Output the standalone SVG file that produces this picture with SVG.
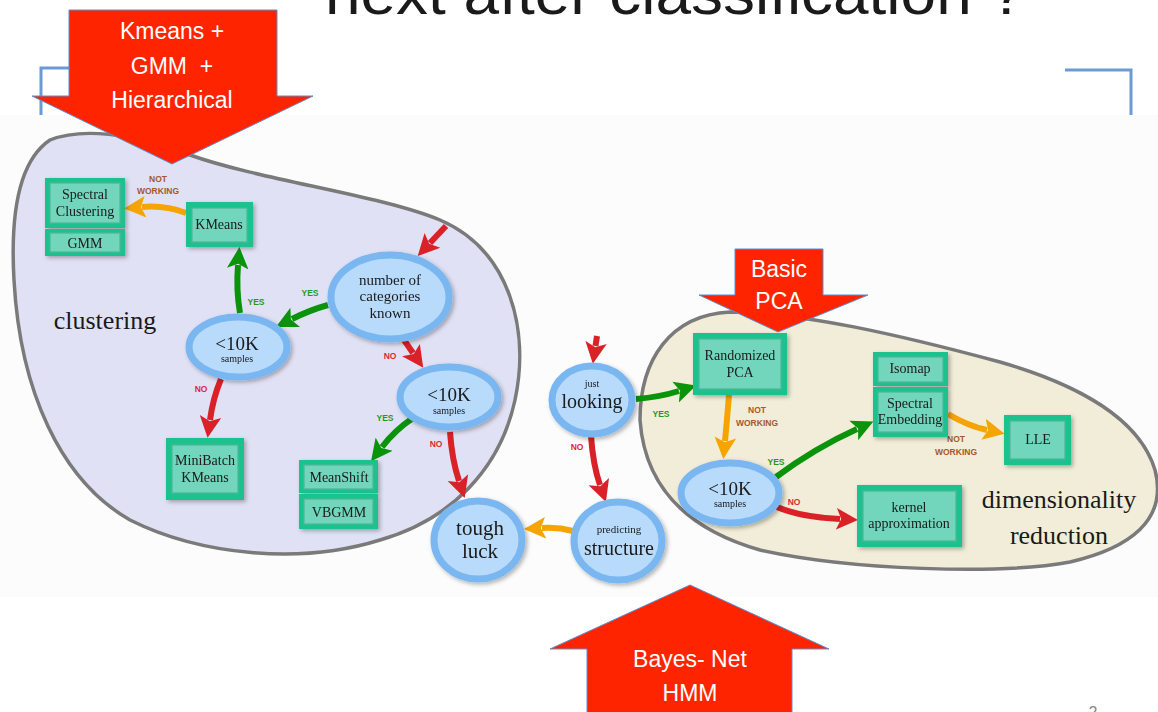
<svg xmlns="http://www.w3.org/2000/svg" width="1158" height="712" viewBox="0 0 1158 712">
<defs>
<style>
.blob{stroke:#7a7a7a;stroke-width:3.5}
.ell{fill:#b8dafb;stroke:#7ab7f1;stroke-width:7}
.box{fill:#1ec28e}
.inr{fill:#72d6bd;stroke:#4fb597;stroke-width:1.2}
.t{font-family:"Liberation Serif","DejaVu Serif",serif;fill:#1a1a1a;text-anchor:middle}
.bx{font-size:14px}
.lab{font-family:"Liberation Sans",Arial,sans-serif;font-weight:bold;font-size:8.5px;text-anchor:middle}
.yes{fill:#1e9b1e}.no{fill:#e0282e}.nw{fill:#a4582c}
.big{fill:#ff2400;stroke:#5b8fd0;stroke-width:1}
.bt{font-family:"Liberation Sans",Arial,sans-serif;fill:#fff;font-size:23px;text-anchor:middle}
.a{fill:none;stroke-width:6;stroke-linecap:butt}
.r{stroke:#d92127}.g{stroke:#0b930b}.o{stroke:#f6a400}
</style>
<filter id="sh" x="-20%" y="-20%" width="150%" height="150%">
<feDropShadow dx="2" dy="2" stdDeviation="2" flood-color="#000" flood-opacity="0.3"/>
</filter>
<marker id="mr" markerUnits="userSpaceOnUse" markerWidth="24" markerHeight="24" viewBox="0 -10 20 20" refX="3" refY="0" orient="auto"><path d="M0,-9 L18,0 L0,9 L4,0 Z" fill="#d92127"/></marker>
<marker id="mg" markerUnits="userSpaceOnUse" markerWidth="24" markerHeight="24" viewBox="0 -10 20 20" refX="3" refY="0" orient="auto"><path d="M0,-9 L18,0 L0,9 L4,0 Z" fill="#0b930b"/></marker>
<marker id="mo" markerUnits="userSpaceOnUse" markerWidth="24" markerHeight="24" viewBox="0 -10 20 20" refX="3" refY="0" orient="auto"><path d="M0,-9 L18,0 L0,9 L4,0 Z" fill="#f6a400"/></marker>
</defs>
<rect width="1158" height="712" fill="#fff"/>
<text x="325" y="14" font-family="Liberation Sans,Arial,sans-serif" font-size="60" fill="#1a1a1a" textLength="700" lengthAdjust="spacingAndGlyphs">next after classification ?</text>
<g id="brackets" fill="none" stroke="#6b9bd2" stroke-width="3">
<path d="M41,115 V68 H72"/>
<path d="M1065,70 H1131 V115"/>
</g>
<rect x="0" y="115" width="1158" height="482" fill="#fcfcfc"/>
<g id="clustering-region">
<path class="blob" fill="#e1e1f5" d="M50,140 C80,128 130,132 190,155 C260,180 380,195 440,220 C510,250 530,330 515,400 C500,470 450,520 380,540 C300,565 200,555 130,520 C60,480 20,390 14,280 C10,210 20,160 50,140 Z"/>
<text class="t" x="105" y="329" font-size="26">clustering</text>
</g>
<g id="dimred-region">
<path class="blob" fill="#f2edd8" d="M640,420 C640,360 670,315 730,312 C800,312 900,335 1000,362 C1080,385 1140,420 1155,470 C1168,520 1130,548 1070,562 C1000,575 850,570 760,550 C690,530 645,490 640,420 Z"/>
<text class="t" x="1059" y="508" font-size="26">dimensionality</text>
<text class="t" x="1059" y="544" font-size="26">reduction</text>
</g>
<g id="connectors">
<path class="a r" d="M446,226 L430,243" marker-end="url(#mr)"/>
<path class="a g" d="M328,305 Q310,310 292,319" marker-end="url(#mg)"/>
<path class="a g" d="M240,313 Q236,290 238,265" marker-end="url(#mg)"/>
<path class="a o" d="M186,213 Q165,205 142,207" marker-end="url(#mo)"/>
<path class="a r" d="M404,340 L413,353" marker-end="url(#mr)"/>
<path class="a r" d="M221,379 Q213,398 210,420" marker-end="url(#mr)"/>
<path class="a g" d="M413,418 Q395,430 382,447" marker-end="url(#mg)"/>
<path class="a r" d="M450,432 Q452,460 459,481" marker-end="url(#mr)"/>
<path class="a r" d="M597,336 L595.5,346" marker-end="url(#mr)"/>
<path class="a g" d="M636,399 Q660,397 679,391" marker-end="url(#mg)"/>
<path class="a r" d="M591,436 Q593,465 600,485" marker-end="url(#mr)"/>
<path class="a o" d="M573,531 Q558,527 542,528" marker-end="url(#mo)"/>
<path class="a o" d="M729,395 Q727,420 725,441" marker-end="url(#mo)"/>
<path class="a g" d="M776,477 Q815,448 857,429" marker-end="url(#mg)"/>
<path class="a o" d="M948,414 Q968,426 987,430" marker-end="url(#mo)"/>
<path class="a r" d="M777,507 Q800,517 840,519" marker-end="url(#mr)"/>
<text class="lab yes" x="310" y="296">YES</text>
<text class="lab yes" x="256" y="305">YES</text>
<text class="lab nw" x="158" y="182">NOT</text>
<text class="lab nw" x="158" y="194">WORKING</text>
<text class="lab no" x="390" y="359">NO</text>
<text class="lab no" x="201" y="392">NO</text>
<text class="lab yes" x="385" y="421">YES</text>
<text class="lab no" x="436" y="447">NO</text>
<text class="lab yes" x="661" y="417">YES</text>
<text class="lab no" x="577" y="450">NO</text>
<text class="lab nw" x="757" y="413">NOT</text>
<text class="lab nw" x="757" y="426">WORKING</text>
<text class="lab yes" x="776" y="465">YES</text>
<text class="lab nw" x="956" y="442">NOT</text>
<text class="lab nw" x="956" y="455">WORKING</text>
<text class="lab no" x="794" y="505">NO</text>
</g>
<g id="spectral-clustering" filter="url(#sh)">
<rect class="box" x="45" y="178" width="80" height="50"/><rect class="inr" x="50" y="183" width="70" height="40"/>
<text class="t bx" x="85" y="199">Spectral</text><text class="t bx" x="85" y="216">Clustering</text>
</g>
<g id="gmm" filter="url(#sh)">
<rect class="box" x="45" y="229" width="80" height="27"/><rect class="inr" x="50" y="233" width="70" height="19"/>
<text class="t bx" x="85" y="248">GMM</text>
</g>
<g id="kmeans" filter="url(#sh)">
<rect class="box" x="186" y="202" width="67" height="45"/><rect class="inr" x="192" y="208" width="55" height="34"/>
<text class="t bx" x="219" y="229">KMeans</text>
</g>
<g id="minibatch" filter="url(#sh)">
<rect class="box" x="166" y="438" width="78" height="62"/><rect class="inr" x="172" y="445" width="66" height="48"/>
<text class="t bx" x="205" y="465">MiniBatch</text><text class="t bx" x="205" y="482">KMeans</text>
</g>
<g id="meanshift" filter="url(#sh)">
<rect class="box" x="299" y="460" width="79" height="33"/><rect class="inr" x="304" y="465" width="69" height="24"/>
<text class="t bx" x="339" y="482">MeanShift</text>
</g>
<g id="vbgmm" filter="url(#sh)">
<rect class="box" x="299" y="494" width="79" height="35"/><rect class="inr" x="304" y="499" width="69" height="25"/>
<text class="t bx" x="339" y="517">VBGMM</text>
</g>
<g id="randomized-pca" filter="url(#sh)">
<rect class="box" x="693" y="333" width="94" height="62"/><rect class="inr" x="699" y="339" width="82" height="50"/>
<text class="t bx" x="740" y="360">Randomized</text><text class="t bx" x="740" y="377">PCA</text>
</g>
<g id="isomap" filter="url(#sh)">
<rect class="box" x="873" y="352" width="75" height="34"/><rect class="inr" x="878" y="357" width="65" height="25"/>
<text class="t bx" x="910" y="373">Isomap</text>
</g>
<g id="spectral-embedding" filter="url(#sh)">
<rect class="box" x="873" y="387" width="75" height="50"/><rect class="inr" x="878" y="392" width="65" height="40"/>
<text class="t bx" x="910" y="408">Spectral</text><text class="t bx" x="910" y="424">Embedding</text>
</g>
<g id="lle" filter="url(#sh)">
<rect class="box" x="1004" y="415" width="67" height="50"/><rect class="inr" x="1010" y="421" width="55" height="38"/>
<text class="t bx" x="1038" y="444">LLE</text>
</g>
<g id="kernel-approx" filter="url(#sh)">
<rect class="box" x="857" y="485" width="105" height="62"/><rect class="inr" x="863" y="491" width="93" height="50"/>
<text class="t bx" x="909" y="512">kernel</text><text class="t bx" x="909" y="528">approximation</text>
</g>
<g id="num-categories" filter="url(#sh)">
<ellipse class="ell" cx="390" cy="297" rx="59" ry="42"/>
<text class="t" x="390" y="285" font-size="15">number of</text><text class="t" x="390" y="301" font-size="15">categories</text><text class="t" x="390" y="318" font-size="15">known</text>
</g>
<g id="samples-left" filter="url(#sh)">
<ellipse class="ell" cx="238" cy="347" rx="49" ry="30"/>
<text class="t" x="237" y="350" font-size="19">&lt;10K</text><text class="t" x="237" y="362" font-size="10">samples</text>
</g>
<g id="samples-mid" filter="url(#sh)">
<ellipse class="ell" cx="449" cy="397" rx="49" ry="30"/>
<text class="t" x="449" y="401" font-size="19">&lt;10K</text><text class="t" x="449" y="414" font-size="10">samples</text>
</g>
<g id="tough-luck" filter="url(#sh)">
<ellipse class="ell" cx="478" cy="540" rx="44" ry="39"/>
<text class="t" x="480" y="535" font-size="21">tough</text><text class="t" x="480" y="558" font-size="21">luck</text>
</g>
<g id="just-looking" filter="url(#sh)">
<ellipse class="ell" cx="592" cy="400" rx="40" ry="34"/>
<text class="t" x="592" y="387" font-size="10">just</text><text class="t" x="592" y="408" font-size="20">looking</text>
</g>
<g id="predicting-structure" filter="url(#sh)">
<ellipse class="ell" cx="618" cy="541" rx="44" ry="39"/>
<text class="t" x="619" y="533" font-size="11">predicting</text><text class="t" x="619" y="555" font-size="20">structure</text>
</g>
<g id="samples-right" filter="url(#sh)">
<ellipse class="ell" cx="730" cy="493" rx="49" ry="30"/>
<text class="t" x="730" y="495" font-size="19">&lt;10K</text><text class="t" x="730" y="507" font-size="10">samples</text>
</g>
<g id="arrow-kmeans">
<polygon class="big" points="69,10 277,10 277,96 313,96 172,164 32,96 69,96"/>
<text class="bt" x="172" y="39">Kmeans +</text>
<text class="bt" x="172" y="74" style="white-space:pre">GMM  +</text>
<text class="bt" x="172" y="108">Hierarchical</text>
</g>
<g id="arrow-pca">
<polygon class="big" points="735,249 823,249 823,295 868,295 778,332 699,295 735,295"/>
<text class="bt" x="779" y="277">Basic</text>
<text class="bt" x="779" y="309">PCA</text>
</g>
<g id="arrow-bayes">
<polygon class="big" points="690,585 829,649 792,649 792,716 587,716 587,649 550,649"/>
<text class="bt" x="690" y="667">Bayes- Net</text>
<text class="bt" x="690" y="701">HMM</text>
</g>
<text x="1093" y="718" font-family="Liberation Sans,Arial,sans-serif" font-size="16" fill="#888" text-anchor="middle">2</text>
</svg>
